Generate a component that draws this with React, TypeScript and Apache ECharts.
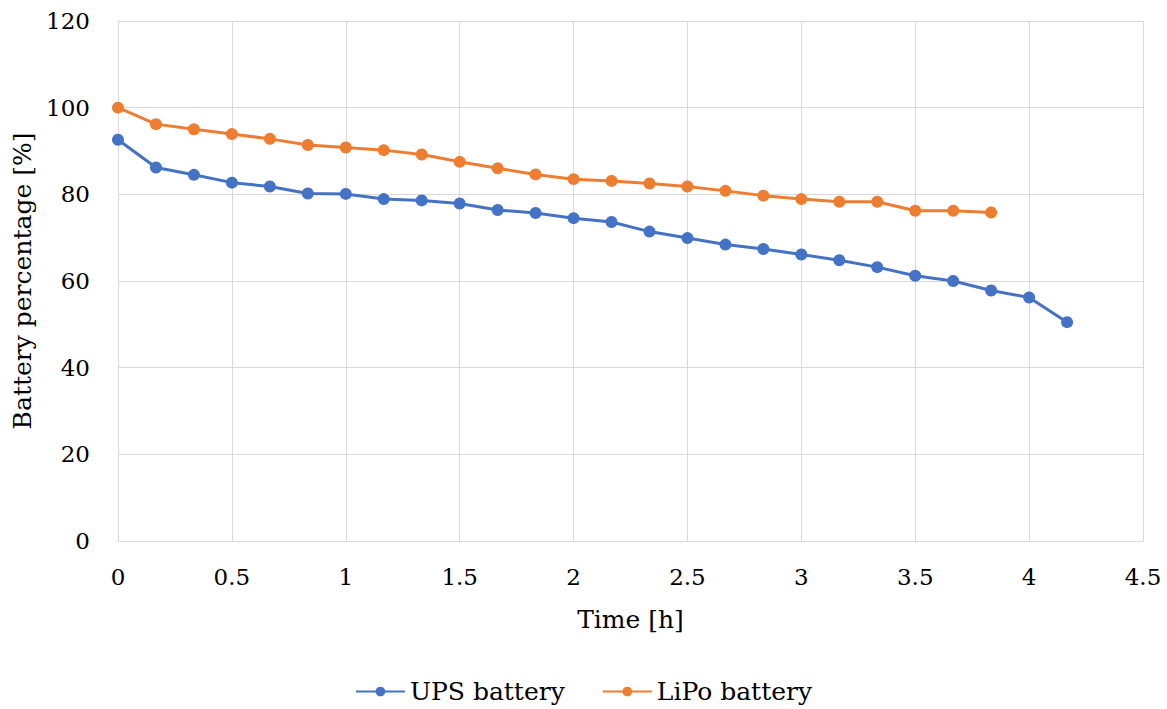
import React, { useEffect, useRef } from "react";
import * as echarts from "echarts";

const upsTime = [0, 0.1667, 0.3333, 0.5, 0.6667, 0.8333, 1, 1.1667, 1.3333, 1.5, 1.6667, 1.8333, 2, 2.1667, 2.3333, 2.5, 2.6667, 2.8333, 3, 3.1667, 3.3333, 3.5, 3.6667, 3.8333, 4, 4.1667];
const upsValues = [92.6, 86.2, 84.5, 82.7, 81.8, 80.2, 80.1, 78.9, 78.6, 77.9, 76.4, 75.7, 74.5, 73.6, 71.4, 69.9, 68.4, 67.4, 66.1, 64.8, 63.2, 61.2, 60.0, 57.8, 56.2, 50.5];

const lipoTime = [0, 0.1667, 0.3333, 0.5, 0.6667, 0.8333, 1, 1.1667, 1.3333, 1.5, 1.6667, 1.8333, 2, 2.1667, 2.3333, 2.5, 2.6667, 2.8333, 3, 3.1667, 3.3333, 3.5, 3.6667, 3.8333];
const lipoValues = [100, 96.2, 95.0, 93.9, 92.8, 91.4, 90.8, 90.2, 89.2, 87.5, 86.0, 84.6, 83.5, 83.1, 82.5, 81.8, 80.8, 79.7, 78.9, 78.3, 78.3, 76.2, 76.2, 75.8];

const seriesNames = ["UPS battery", "LiPo battery"];
const xAxisTitle = "Time [h]";
const yAxisTitle = "Battery percentage [%]";

const FONT = "DejaVu Serif";
const TICK_SIZE = 23;
const TITLE_SIZE = 25;

export default function App() {
  const ref = useRef<HTMLDivElement>(null);
  useEffect(() => {
    if (!ref.current) return;
    const chart = echarts.init(ref.current, undefined, { renderer: "svg" });
    const zip = (xs: number[], ys: number[]) => xs.map((x, i) => [x, ys[i]]);
    chart.setOption({
      animation: false,
      textStyle: { fontFamily: FONT, color: "#000" },
      grid: { left: 118, right: 24, top: 21, bottom: 168, containLabel: false },
      legend: {
        top: 674,
        left: "center",
        itemWidth: 49,
        itemHeight: 12,
        itemGap: 37,
        textStyle: { fontFamily: FONT, fontSize: TITLE_SIZE, color: "#000" },
        data: seriesNames,
      },
      xAxis: {
        type: "value",
        min: 0,
        max: 4.5,
        interval: 0.5,
        name: xAxisTitle,
        nameLocation: "middle",
        nameGap: 66,
        nameTextStyle: { fontFamily: FONT, fontSize: TITLE_SIZE, color: "#000" },
        axisLine: { show: true, lineStyle: { color: "#d9d9d9", width: 1 } },
        axisTick: { show: false },
        axisLabel: { fontFamily: FONT, fontSize: TICK_SIZE, color: "#000", margin: 24 },
        splitLine: { show: true, lineStyle: { color: "#d9d9d9", width: 1 } },
      },
      yAxis: {
        type: "value",
        min: 0,
        max: 120,
        interval: 20,
        name: yAxisTitle,
        nameLocation: "middle",
        nameGap: 83,
        nameTextStyle: { fontFamily: FONT, fontSize: TITLE_SIZE, color: "#000" },
        axisLine: { show: true, lineStyle: { color: "#d9d9d9", width: 1 } },
        axisTick: { show: false },
        axisLabel: { fontFamily: FONT, fontSize: TICK_SIZE, color: "#000", margin: 28 },
        splitLine: { show: true, lineStyle: { color: "#d9d9d9", width: 1 } },
      },
      series: [
        {
          name: seriesNames[0],
          type: "line",
          data: zip(upsTime, upsValues),
          symbol: "circle",
          symbolSize: 12,
          lineStyle: { color: "#4472C4", width: 3 },
          itemStyle: { color: "#4472C4" },
        },
        {
          name: seriesNames[1],
          type: "line",
          data: zip(lipoTime, lipoValues),
          symbol: "circle",
          symbolSize: 12,
          lineStyle: { color: "#ED7D31", width: 3 },
          itemStyle: { color: "#ED7D31" },
        },
      ],
    });
    return () => chart.dispose();
  }, []);
  return <div ref={ref} style={{ width: 1167, height: 709, position: "absolute", left: 0, top: 0 }} />;
}
